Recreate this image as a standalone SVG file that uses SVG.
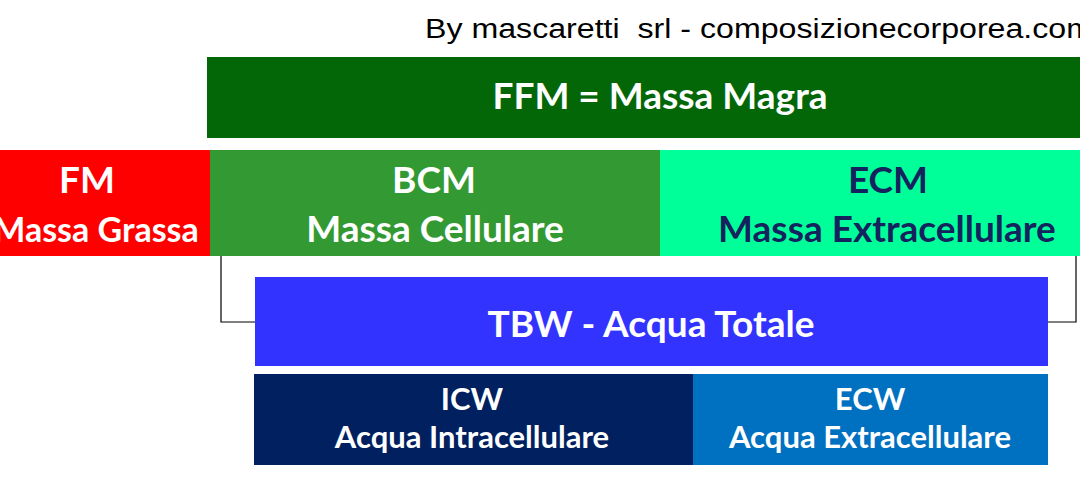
<svg xmlns="http://www.w3.org/2000/svg" width="1080" height="479" viewBox="0 0 1080 479">
<style>
.t{font-family:Lato,"Open Sans","Noto Sans",sans-serif;font-weight:bold;text-anchor:middle;fill:#fff}
.big{font-size:37px}
.mid{font-size:31px}
.dark{fill:#14235e}
.credit{font-family:"Liberation Sans",Arial,sans-serif;font-size:27px;fill:#000;white-space:pre}
.br{fill:none;stroke:#000;stroke-width:1.2}
</style>
<rect width="1080" height="479" fill="#fff"/>
<text class="credit" x="425" y="38" xml:space="preserve" textLength="668" lengthAdjust="spacingAndGlyphs">By mascaretti  srl - composizionecorporea.com</text>
<g id="connectors">
<polyline class="br" points="221,256 221,322 255,322"/>
<polyline class="br" points="1076,256 1076,322 1048,322"/>
</g>
<g id="ffm">
<rect x="207" y="57" width="873" height="81" fill="#036707"/>
<text class="t big" x="660" y="109">FFM = Massa Magra</text>
</g>
<g id="fm">
<rect x="0" y="150" width="210" height="106" fill="#ff0000"/>
<text class="t big" x="87" y="193">FM</text>
<text class="t big" x="96" y="242" style="font-size:34px">Massa Grassa</text>
</g>
<g id="bcm">
<rect x="210" y="150" width="450" height="106" fill="#339933"/>
<text class="t big" x="434" y="193">BCM</text>
<text class="t big" x="435" y="242">Massa Cellulare</text>
</g>
<g id="ecm">
<rect x="660" y="150" width="420" height="106" fill="#00ff99"/>
<text class="t big dark" x="888" y="193">ECM</text>
<text class="t big dark" x="887" y="242">Massa Extracellulare</text>
</g>
<g id="tbw">
<rect x="255" y="277" width="793" height="89" fill="#3333ff"/>
<text class="t big" x="651" y="337">TBW - Acqua Totale</text>
</g>
<g id="icw">
<rect x="254" y="374" width="439" height="91" fill="#002060"/>
<text class="t mid" x="472" y="410">ICW</text>
<text class="t mid" x="472" y="448">Acqua Intracellulare</text>
</g>
<g id="ecw">
<rect x="693" y="374" width="355" height="91" fill="#0070c0"/>
<text class="t mid" x="870" y="410">ECW</text>
<text class="t mid" x="870" y="448">Acqua Extracellulare</text>
</g>
</svg>
